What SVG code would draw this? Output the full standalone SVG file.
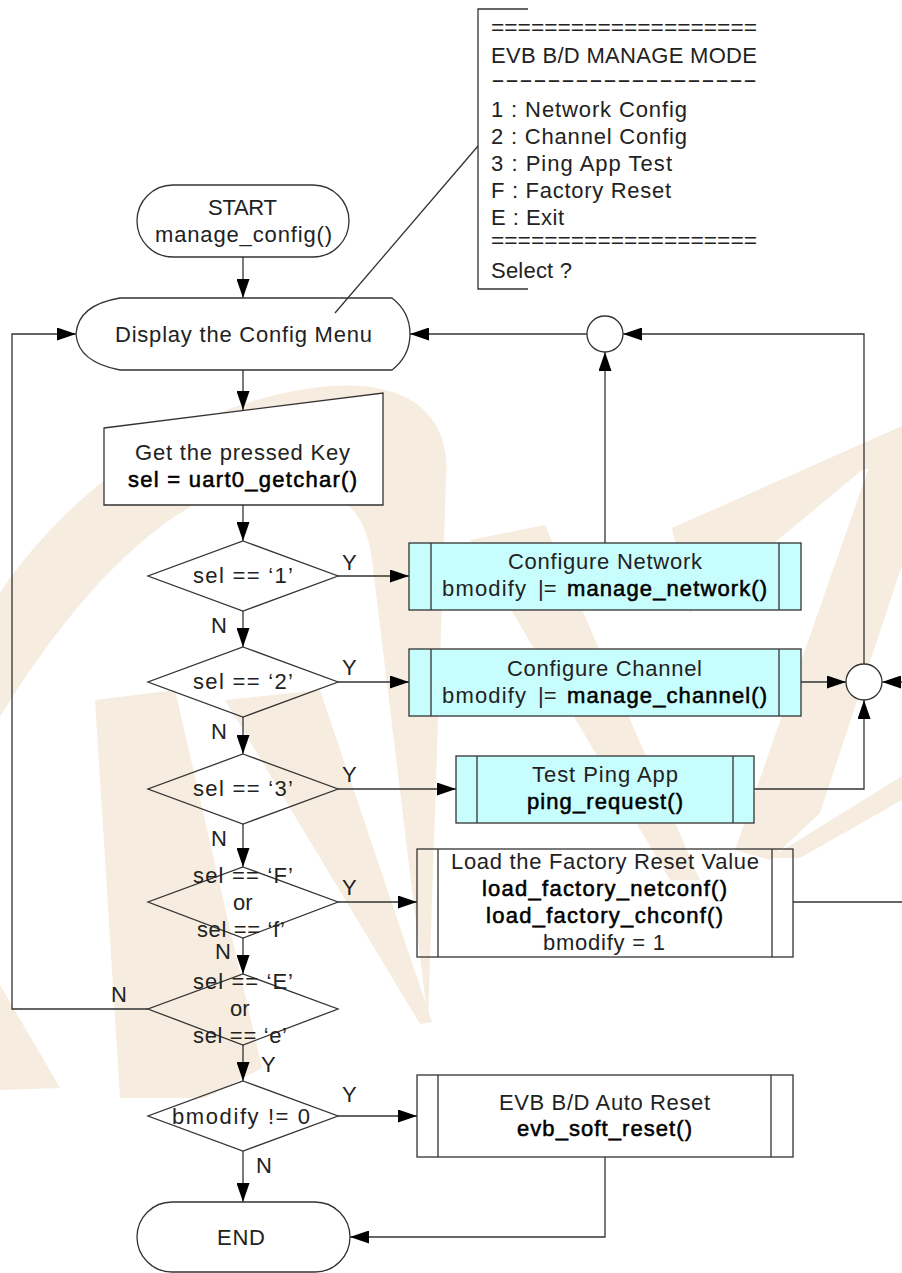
<svg xmlns="http://www.w3.org/2000/svg" width="902" height="1273" viewBox="0 0 902 1273">
<style>
  .t { font-family: "Liberation Sans", Arial, sans-serif; font-size: 22px; fill: #222; }
  .b { font-family: "Liberation Sans", Arial, sans-serif; font-size: 22px; fill: #000; stroke: #000; stroke-width: 0.55; }
  .sh { fill: none; stroke: #333; stroke-width: 1.3; }
  .wh { fill: #fff; stroke: #333; stroke-width: 1.3; }
  .cy { fill: #c8fdfd; stroke: #333; stroke-width: 1.3; }
  .ln { fill: none; stroke: #333; stroke-width: 1.3; }
  .wm { fill: #f6ede0; }
</style>
<defs>
  <marker id="ah" markerWidth="19" markerHeight="13" refX="19" refY="6.5" orient="auto" markerUnits="userSpaceOnUse">
    <path d="M0,0 L19,6.5 L0,13 Z" fill="#000"/>
  </marker>
</defs>

<rect width="902" height="1273" fill="#fff"/>

<!-- background logo watermark -->
<g id="watermark">
  <path class="wm" d="M-5,600 C60,500 180,400 330,386 C415,380 452,420 446,480 L428,1022 L372,560 C366,505 330,478 270,480 C170,488 70,600 -5,725 Z"/>
  <polygon class="wm" points="95,700 175,690 262,1068 205,1098 120,1098"/>
  <polygon class="wm" points="225,700 320,690 432,1022 420,1024"/>
  <polygon class="wm" points="470,540 545,525 700,880 670,880"/>
  <polygon class="wm" points="672,528 902,426 902,462 862,470 690,613"/>
  <polygon class="wm" points="868,470 902,440 902,565 820,813 770,860 735,850"/>
  <polygon class="wm" points="770,858 902,776 902,800 800,858"/>
  <polygon class="wm" points="0,985 60,1088 0,1090"/>
</g>

<!-- connectors -->
<g id="connectors">
  <path class="ln" d="M243,257 V298" marker-end="url(#ah)"/>
  <path class="ln" d="M243,370 V410" marker-end="url(#ah)"/>
  <path class="ln" d="M243,505 V541" marker-end="url(#ah)"/>
  <path class="ln" d="M243,611 V647" marker-end="url(#ah)"/>
  <path class="ln" d="M243,717 V754" marker-end="url(#ah)"/>
  <path class="ln" d="M243,824 V867" marker-end="url(#ah)"/>
  <path class="ln" d="M243,938 V974" marker-end="url(#ah)"/>
  <path class="ln" d="M243,1045 V1081" marker-end="url(#ah)"/>
  <path class="ln" d="M243,1151 V1202" marker-end="url(#ah)"/>
  <path class="ln" d="M338,576 H409" marker-end="url(#ah)"/>
  <path class="ln" d="M338,682 H409" marker-end="url(#ah)"/>
  <path class="ln" d="M338,789 H456" marker-end="url(#ah)"/>
  <path class="ln" d="M338,902 H417" marker-end="url(#ah)"/>
  <path class="ln" d="M338,1116 H417" marker-end="url(#ah)"/>
  <path class="ln" d="M605,1157 V1237 H350" marker-end="url(#ah)"/>
  <path class="ln" d="M148,1009 H12 V334 H76" marker-end="url(#ah)"/>
  <path class="ln" d="M605,543 V352" marker-end="url(#ah)"/>
  <path class="ln" d="M587,334 H410" marker-end="url(#ah)"/>
  <path class="ln" d="M864,664 V334 H623" marker-end="url(#ah)"/>
  <path class="ln" d="M801,682 H846" marker-end="url(#ah)"/>
  <path class="ln" d="M754,789 H864 V700" marker-end="url(#ah)"/>
  <path class="ln" d="M902,682 H882" marker-end="url(#ah)"/>
  <path class="ln" d="M793,902 H902"/>
  <path class="ln" d="M478,146 L335,313"/>
</g>

<!-- branch labels -->
<g id="labels" class="t">
  <text x="342" y="570">Y</text>
  <text x="342" y="675">Y</text>
  <text x="342" y="782">Y</text>
  <text x="342" y="895">Y</text>
  <text x="211" y="633">N</text>
  <text x="211" y="739">N</text>
  <text x="211" y="846">N</text>
  <text x="215" y="959">N</text>
  <text x="111" y="1002">N</text>
  <text x="261" y="1072">Y</text>
  <text x="342" y="1102">Y</text>
  <text x="256" y="1173">N</text>
</g>

<!-- menu annotation -->
<g id="menu">
  <path class="ln" d="M528,9 H478 V289 H528"/>
  <text class="t" x="491" y="34.5" textLength="266" lengthAdjust="spacingAndGlyphs">====================</text>
  <text class="t" x="491" y="63" textLength="266">EVB B/D MANAGE MODE</text>
  <text class="t" x="491" y="86.5" textLength="266" lengthAdjust="spacingAndGlyphs">-------------------</text>
  <text class="t" x="491" y="116.5" textLength="196">1 : Network Config</text>
  <text class="t" x="491" y="143.5" textLength="196">2 : Channel Config</text>
  <text class="t" x="491" y="170.5" textLength="181">3 : Ping App Test</text>
  <text class="t" x="491" y="197.5" textLength="180">F : Factory Reset</text>
  <text class="t" x="491" y="224.5" textLength="73">E : Exit</text>
  <text class="t" x="491" y="247.5" textLength="266" lengthAdjust="spacingAndGlyphs">====================</text>
  <text class="t" x="491" y="278" textLength="81">Select ?</text>
</g>

<g id="start">
  <rect class="sh" x="137" y="185" width="212" height="72" rx="36" ry="36"/>
  <text class="t" x="208" y="215" textLength="69">START</text>
  <text class="t" x="155" y="242" textLength="177">manage_config()</text>
</g>

<g id="display-menu">
  <path class="sh" d="M120,298 H392 Q410,312 410,334 Q410,356 392,370 H120 Q78,362 76,334 Q78,305 120,298 Z"/>
  <text class="t" x="115" y="342" textLength="257">Display the Config Menu</text>
</g>

<g id="get-key">
  <path class="wh" d="M104,428 L383,393 V505 H104 Z"/>
  <text class="t" x="135" y="460" textLength="215">Get the pressed Key</text>
  <text class="b" x="128" y="487" textLength="229">sel = uart0_getchar()</text>
</g>

<g id="sel-1">
  <polygon class="sh" points="243,541 338,576 243,611 148,576"/>
  <text class="t" x="193" y="583" textLength="100">sel == ‘1’</text>
</g>

<g id="sel-2">
  <polygon class="sh" points="243,647 338,682 243,717 148,682"/>
  <text class="t" x="193" y="689" textLength="100">sel == ‘2’</text>
</g>

<g id="sel-3">
  <polygon class="sh" points="243,754 338,789 243,824 148,789"/>
  <text class="t" x="193" y="796" textLength="100">sel == ‘3’</text>
</g>

<g id="sel-f">
  <polygon class="sh" points="243,867 338,902 243,938 148,902"/>
  <text class="t" x="193" y="883" textLength="100">sel == ‘F’</text>
  <text class="t" x="233" y="910">or</text>
  <text class="t" x="197" y="937" textLength="88">sel == ‘f’</text>
</g>

<g id="sel-e">
  <polygon class="sh" points="243,974 338,1009 243,1045 148,1009"/>
  <text class="t" x="193" y="989" textLength="100">sel == ‘E’</text>
  <text class="t" x="230" y="1016">or</text>
  <text class="t" x="193" y="1043" textLength="94">sel == ‘e’</text>
</g>

<g id="bmodify-check">
  <polygon class="sh" points="243,1081 338,1116 243,1151 148,1116"/>
  <text class="t" x="172" y="1124" textLength="138">bmodify != 0</text>
</g>

<g id="end">
  <rect class="sh" x="137" y="1202" width="213" height="70" rx="35" ry="35"/>
  <text class="t" x="217" y="1245" textLength="48">END</text>
</g>

<g id="configure-network">
  <rect class="cy" x="409" y="543" width="392" height="67"/>
  <path class="ln" d="M431,543 V610 M779,543 V610"/>
  <text class="t" x="508" y="569" textLength="194">Configure Network</text>
  <text class="t" x="442" y="596" textLength="84">bmodify</text>
  <text class="t" x="538" y="596">|=</text>
  <text class="b" x="567" y="596" textLength="200">manage_network()</text>
</g>

<g id="configure-channel">
  <rect class="cy" x="409" y="649" width="392" height="67"/>
  <path class="ln" d="M431,649 V716 M779,649 V716"/>
  <text class="t" x="507" y="676" textLength="195">Configure Channel</text>
  <text class="t" x="442" y="703" textLength="84">bmodify</text>
  <text class="t" x="538" y="703">|=</text>
  <text class="b" x="567" y="703" textLength="200">manage_channel()</text>
</g>

<g id="test-ping">
  <rect class="cy" x="456" y="756" width="298" height="67"/>
  <path class="ln" d="M477,756 V823 M733,756 V823"/>
  <text class="t" x="532" y="782" textLength="146">Test Ping App</text>
  <text class="b" x="527" y="809" textLength="156">ping_request()</text>
</g>

<g id="factory-reset">
  <rect class="sh" x="417" y="849" width="376" height="108"/>
  <path class="ln" d="M438,849 V957 M772,849 V957"/>
  <text class="t" x="451" y="869" textLength="308">Load the Factory Reset Value</text>
  <text class="b" x="482" y="896" textLength="245">load_factory_netconf()</text>
  <text class="b" x="486" y="923" textLength="237">load_factory_chconf()</text>
  <text class="t" x="543" y="950" textLength="122">bmodify = 1</text>
</g>

<g id="auto-reset">
  <rect class="sh" x="417" y="1075" width="376" height="82"/>
  <path class="ln" d="M438,1075 V1157 M771,1075 V1157"/>
  <text class="t" x="499" y="1110" textLength="211">EVB B/D Auto Reset</text>
  <text class="b" x="517" y="1136" textLength="175">evb_soft_reset()</text>
</g>

<g id="junction-top">
  <circle class="wh" cx="605" cy="334" r="18"/>
</g>

<g id="junction-right">
  <circle class="wh" cx="864" cy="682" r="18"/>
</g>
</svg>
